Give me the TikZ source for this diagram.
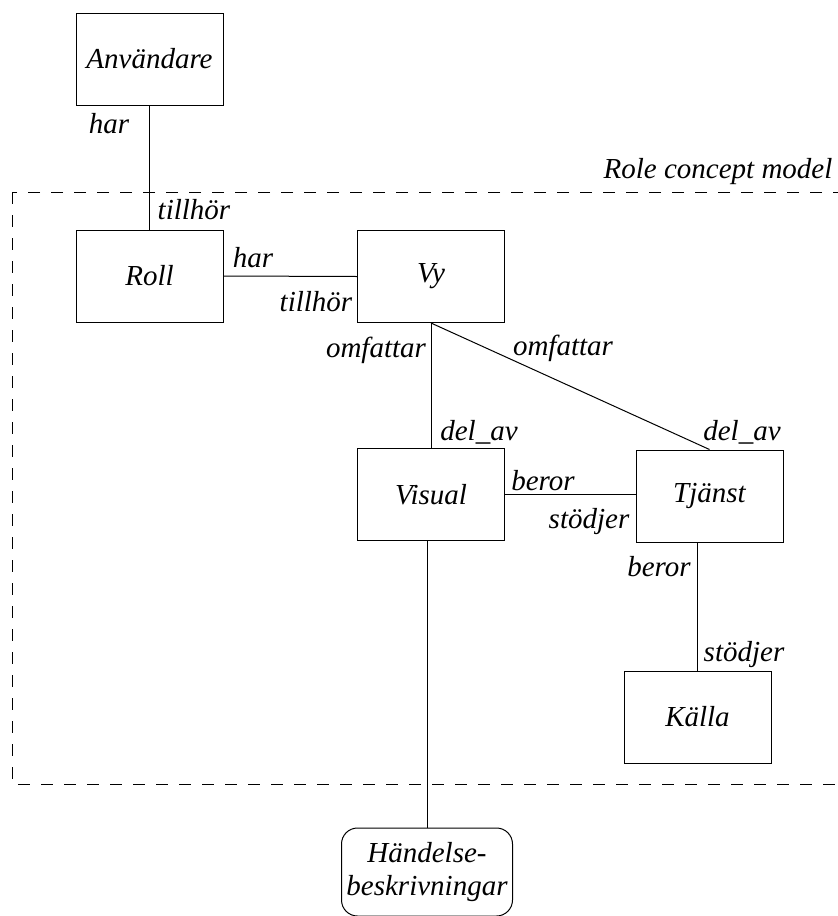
\documentclass[tikz,border=0pt]{standalone}
\usepackage{fontspec}
\newfontfamily\rolefont{Liberation Serif}
\usetikzlibrary{positioning}

\begin{document}
\begin{tikzpicture}[x=0.5pt, y=-0.5pt, line width=0.5pt,
    font=\rolefont\fontsize{14.5}{16.5}\selectfont\itshape,
    ent/.style={draw, rectangle, minimum width=73.5pt, minimum height=46pt, inner sep=0pt},
    lbl/.style={inner sep=0pt}]

\useasboundingbox (0,0) rectangle (838,916);

% frame of the role concept model
\draw[dash pattern=on 6pt off 5.5pt] (12,192) rectangle (860,784);
\node[lbl] (rcm) at (718,172) {Role concept model};

% entities
\node[ent] (anv) at (149.5,59) {Användare};
\node[ent] (roll) at (149.5,276) {Roll};
\node[ent] (vy) at (431,276.5) {Vy};
\node[ent] (visual) at (431,494.5) {Visual};
\node[ent] (tjanst) at (709.5,496) {Tjänst};
\node[ent] (kalla) at (697.5,717) {Källa};
\node[ent, rounded corners=8pt, minimum width=85.5pt, minimum height=44pt, align=center]
    (handelse) at (427,872) {Händelse-\\beskrivningar};

% relations
\draw (anv.south) -- (roll.north);
\draw (roll.east) -- (vy.west);
\draw (vy.south) -- (visual.north);
\draw (vy.south) -- (tjanst.north);
\draw (visual.east) -- (visual.east -| tjanst.west);
\draw (kalla.north) -- (kalla.north |- tjanst.south);
\draw (handelse.north) -- (handelse.north |- visual.south);

% role names
\node[lbl] (har1) at (109,124) {har};
\node[lbl] (till1) at (194,210) {tillhör};
\node[lbl] (har2) at (253,258) {har};
\node[lbl] (till2) at (316,302) {tillhör};
\node[lbl] (omf1) at (376,350) {omfattar};
\node[lbl] (omf2) at (563,348) {omfattar};
\node[lbl] (del1) at (479,432) {del\_av};
\node[lbl] (del2) at (742,432) {del\_av};
\node[lbl] (ber1) at (543,481) {beror};
\node[lbl] (sto1) at (589,522) {stödjer};
\node[lbl] (ber2) at (659,567) {beror};
\node[lbl] (sto2) at (744,655) {stödjer};

\end{tikzpicture}
\end{document}
